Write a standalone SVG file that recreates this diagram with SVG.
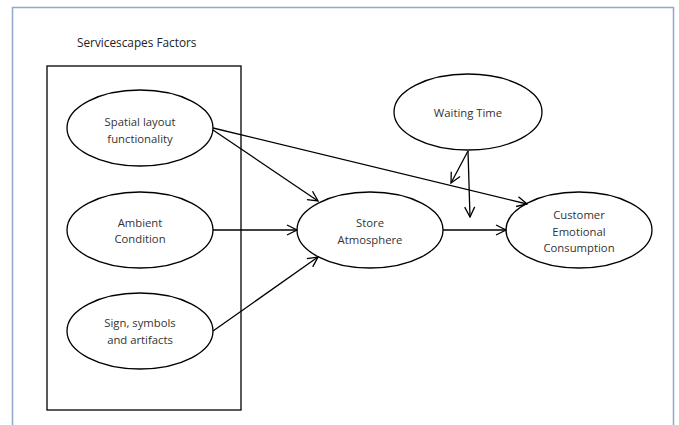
<svg xmlns="http://www.w3.org/2000/svg" width="679" height="425" viewBox="0 0 679 425">
<defs>
<style>
.node{fill:#fff;stroke:#000;stroke-width:1.3}
.lbl{font-family:"Open Sans","Liberation Sans",sans-serif;font-size:11.3px;fill:#333;text-anchor:middle}
.con{stroke:#000;stroke-width:1.3;fill:none;marker-end:url(#arr)}
</style>
<marker id="arr" viewBox="0 0 12 12" refX="11" refY="6" markerWidth="12" markerHeight="12" markerUnits="userSpaceOnUse" orient="auto">
<path d="M1,1 L11,6 L1,11" fill="none" stroke="#000" stroke-width="1.3"/>
</marker>
</defs>
<rect width="679" height="425" fill="#fff"/>
<path d="M12.5,430 V7.5 H673.5 V430" fill="none" stroke="#8fa9c9" stroke-width="1.5"/>
<text x="77" y="47" style="font-family:'Open Sans','Liberation Sans',sans-serif;font-size:11.8px;fill:#222">Servicescapes Factors</text>
<rect id="factors-box" x="47" y="66" width="194" height="344" fill="none" stroke="#000" stroke-width="1.3"/>
<g id="spatial"><ellipse class="node" cx="140" cy="128" rx="73" ry="38"/><text class="lbl" x="140" y="126">Spatial layout</text><text class="lbl" x="140" y="143">functionality</text></g>
<g id="ambient"><ellipse class="node" cx="140" cy="230" rx="73" ry="38"/><text class="lbl" x="140" y="227">Ambient</text><text class="lbl" x="140" y="243">Condition</text></g>
<g id="sign"><ellipse class="node" cx="140" cy="331" rx="73" ry="38"/><text class="lbl" x="140" y="327">Sign, symbols</text><text class="lbl" x="140" y="344">and artifacts</text></g>
<g id="store"><ellipse class="node" cx="370" cy="230" rx="73" ry="38"/><text class="lbl" x="370" y="227">Store</text><text class="lbl" x="370" y="244">Atmosphere</text></g>
<g id="customer"><ellipse class="node" cx="579" cy="230" rx="73" ry="38"/><text class="lbl" x="579" y="219">Customer</text><text class="lbl" x="579" y="236">Emotional</text><text class="lbl" x="579" y="252">Consumption</text></g>
<g id="waiting"><ellipse class="node" cx="468" cy="112" rx="74" ry="38"/><text class="lbl" x="468" y="117">Waiting Time</text></g>
<g id="connectors">
<line class="con" x1="213" y1="128" x2="527" y2="204"/>
<line class="con" x1="213" y1="130" x2="318" y2="201"/>
<line class="con" x1="213" y1="230" x2="297" y2="230"/>
<line class="con" x1="213" y1="331" x2="318" y2="257"/>
<line class="con" x1="443" y1="230" x2="506" y2="230"/>
<line class="con" x1="468" y1="151" x2="451" y2="183"/>
<line class="con" x1="468" y1="151" x2="470" y2="217"/>
</g>
</svg>
